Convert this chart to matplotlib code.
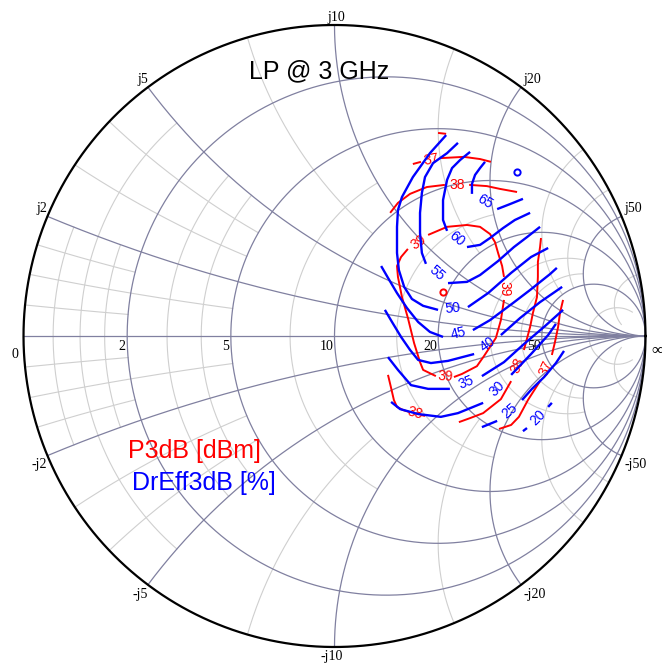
import numpy as np
import matplotlib
matplotlib.use("Agg")
import matplotlib.pyplot as plt

nan = np.nan
Z0 = 10.0  # reference impedance of the chart (ohm)

# ---------------- chart grid (normalised values) ----------------
R_MAJOR = [0.2, 0.5, 1.0, 2.0, 5.0]
X_MAJOR = [0.2, 0.5, 1.0, 2.0, 5.0]
MINOR_VALS = [0.05, 0.1, 0.15, 0.3, 0.4, 0.75, 1.5, 3.0, 4.0, 10.0]
MINOR_EXT = [0.2, 0.5, 0.2, 0.5, 0.5, 1.0, 2.0, 5.0, 5.0, 20.0]

TITLE = "LP @ 3 GHz"
LEGEND_P = "P3dB [dBm]"
LEGEND_E = "DrEff3dB [%]"

# ---------------- contour data (reflection coefficient, NaN = label gap) ----------------
# P3dB [dBm]
p37_top_re = [0.252, 0.278, nan, 0.342, 0.416, 0.468, 0.503]
p37_top_im = [0.553, 0.560, nan, 0.572, 0.576, 0.569, 0.560]

p36_stub_re = [0.333, 0.359]
p36_stub_im = [0.653, 0.650]

p38_top_re = [0.179, 0.204, 0.243, 0.297, 0.355, nan, 0.433, 0.490, 0.532, 0.587]
p38_top_im = [0.396, 0.428, 0.457, 0.479, 0.486, nan, 0.486, 0.482, 0.473, 0.463]

p39_re = [0.301, 0.362, 0.426, 0.468, 0.500, 0.516, 0.526, 0.539, 0.545, nan,
          0.545, 0.535, 0.519, 0.481, 0.458, 0.410, 0.384, nan,
          0.326, 0.285, 0.275, 0.256, 0.236, 0.217, 0.204, 0.201, 0.214, 0.236, nan, 0.301]
p39_im = [0.325, 0.351, 0.357, 0.351, 0.328, 0.302, 0.267, 0.225, 0.190, nan,
          0.116, 0.051, -0.006, -0.064, -0.097, -0.122, -0.132, nan,
          -0.129, -0.109, -0.084, -0.023, 0.058, 0.125, 0.190, 0.225, 0.254, 0.280, nan, 0.325]

p38_right_re = [0.664, 0.661, 0.654, 0.654, 0.651, 0.638, 0.629, 0.609, nan,
                0.568, 0.535, 0.478, 0.436, 0.400]
p38_right_im = [0.315, 0.286, 0.238, 0.190, 0.125, 0.074, 0.029, -0.045, nan,
                -0.145, -0.203, -0.248, -0.264, -0.277]

p38_left_re = [0.172, 0.182, 0.191, 0.201, 0.220, 0.240, nan, 0.278, 0.291]
p38_left_im = [-0.125, -0.167, -0.206, -0.228, -0.238, -0.244, nan, -0.254, -0.257]

p37_right_re = [0.735, 0.725, 0.719, 0.709, 0.699, nan, 0.661, 0.622, 0.593, 0.568, 0.529]
p37_right_im = [0.116, 0.074, 0.029, -0.019, -0.061, nan, -0.145, -0.206, -0.260, -0.286, -0.299]

P3DB_MAX = (0.349, 0.142)

# Drain efficiency [%]
e65_re = [0.484, 0.468, 0.452, 0.442, 0.442, nan, 0.523, 0.564, 0.606]
e65_im = [0.560, 0.540, 0.518, 0.489, 0.457, nan, 0.408, 0.424, 0.441]

e60_re = [0.436, 0.404, 0.378, 0.362, 0.349, 0.349, 0.362, nan, 0.426, 0.468, 0.500, 0.542, 0.580, 0.629]
e60_im = [0.592, 0.566, 0.540, 0.502, 0.437, 0.373, 0.338, nan, 0.286, 0.293, 0.315, 0.347, 0.373, 0.396]

e55_re = [0.397, 0.362, 0.317, 0.291, 0.281, 0.275, 0.275, 0.281, 0.294, nan,
          0.365, 0.426, 0.468, 0.526, 0.577, 0.619, 0.661]
e55_im = [0.621, 0.588, 0.556, 0.511, 0.460, 0.396, 0.331, 0.267, 0.232, nan,
          0.170, 0.174, 0.196, 0.241, 0.286, 0.318, 0.351]

e50_re = [0.359, 0.307, 0.252, 0.217, 0.204, 0.201, 0.201, 0.207, 0.224, 0.249, 0.285, 0.333, nan,
          0.429, 0.494, 0.568, 0.632, 0.687]
e50_im = [0.646, 0.588, 0.511, 0.447, 0.405, 0.351, 0.267, 0.212, 0.158, 0.119, 0.097, 0.084, nan,
          0.093, 0.138, 0.203, 0.254, 0.283]

e45_re = [0.150, 0.172, 0.201, 0.233, 0.269, 0.307, 0.349, nan, 0.445, 0.500, 0.574, 0.629, 0.693, 0.715]
e45_im = [0.225, 0.187, 0.138, 0.090, 0.045, 0.013, -0.003, nan, 0.019, 0.051, 0.106, 0.148, 0.199, 0.219]

e40_re = [0.162, 0.185, 0.214, 0.243, 0.269, 0.310, 0.365, 0.449, nan, 0.535, 0.597, 0.661, 0.709, 0.732]
e40_im = [0.084, 0.045, -0.003, -0.045, -0.077, -0.087, -0.080, -0.058, nan, 0.003, 0.058, 0.109, 0.142, 0.158]

e35_re = [0.172, 0.204, 0.246, 0.301, 0.371, nan, 0.474, 0.545, 0.609, 0.677, 0.735]
e35_im = [-0.068, -0.109, -0.158, -0.170, -0.170, nan, -0.129, -0.084, -0.026, 0.032, 0.084]

e30_re = [0.182, 0.211, 0.269, 0.342, 0.397, 0.478, nan, 0.568, 0.632, 0.687, 0.712]
e30_im = [-0.212, -0.235, -0.251, -0.260, -0.248, -0.215, nan, -0.125, -0.058, 0.003, 0.039]

e25_re = [0.474, 0.523, nan, 0.603, 0.635, 0.674, 0.712, 0.738]
e25_im = [-0.293, -0.273, nan, -0.206, -0.170, -0.132, -0.087, -0.048]

e20_re = [0.606, 0.619, nan, 0.687, 0.699]
e20_im = [-0.306, -0.296, nan, -0.228, -0.215]

EFF_MAX = (0.587, 0.527)

P3DB_CONTOURS = [("37", p37_top_re, p37_top_im), ("", p36_stub_re, p36_stub_im),
                 ("38", p38_top_re, p38_top_im), ("39", p39_re, p39_im),
                 ("38", p38_right_re, p38_right_im), ("38", p38_left_re, p38_left_im),
                 ("37", p37_right_re, p37_right_im)]
EFF_CONTOURS = [("65", e65_re, e65_im), ("60", e60_re, e60_im), ("55", e55_re, e55_im),
                ("50", e50_re, e50_im), ("45", e45_re, e45_im), ("40", e40_re, e40_im),
                ("35", e35_re, e35_im), ("30", e30_re, e30_im), ("25", e25_re, e25_im),
                ("20", e20_re, e20_im)]

# ---------------- styling ----------------
MAJOR_C = "#8080a0"
MINOR_C = "#cfcfcf"
RED = "#ff0000"
BLUE = "#0000ff"
SANS = "Liberation Sans"
SERIF = "Liberation Serif"


def gam(z):
    return (z - 1) / (z + 1)


def r_arc(r, xmax, n=1500):
    t = np.linspace(-np.arctan(xmax), np.arctan(xmax), n)
    g = gam(r + 1j * np.tan(t))
    return g.real, g.imag


def x_arc(x, rmax, n=1500):
    t = np.linspace(0, np.arctan(rmax), n)
    g = gam(np.tan(t) + 1j * x)
    return g.real, g.imag


fig = plt.figure(figsize=(6.62, 6.65), dpi=100)
fig.patch.set_facecolor("white")
ax = fig.add_axes([0, 0, 1, 1])
ax.set_xlim(-1.0756, 1.0531)
ax.set_ylim(-1.0579, 1.0804)
ax.axis("off")

# minor grid
for v, ext in zip(MINOR_VALS, MINOR_EXT):
    gx, gy = r_arc(v, ext)
    ax.plot(gx, gy, color=MINOR_C, lw=0.8, zorder=1)
    for s in (1, -1):
        gx, gy = x_arc(s * v, ext)
        ax.plot(gx, gy, color=MINOR_C, lw=0.8, zorder=1)

# major grid
for r in R_MAJOR:
    gx, gy = r_arc(r, np.inf)
    ax.plot(gx, gy, color=MAJOR_C, lw=0.9, zorder=1.5)
for x in X_MAJOR:
    for s in (1, -1):
        gx, gy = x_arc(s * x, np.inf)
        ax.plot(gx, gy, color=MAJOR_C, lw=0.9, zorder=1.5)
ax.plot([-1, 1], [0, 0], color=MAJOR_C, lw=0.9, zorder=1.5)

th = np.linspace(0, 2 * np.pi, 1000)
ax.plot(np.cos(th), np.sin(th), color="black", lw=1.6, zorder=2)

# grid labels
for r in R_MAJOR:
    ax.annotate(f"{r * Z0:g}", (gam(r), 0), xytext=(-1, -3), textcoords="offset points",
                ha="right", va="top", fontsize=10, family=SERIF)
ax.annotate("0", (-1, 0), xytext=(-4, -9), textcoords="offset points",
            ha="right", va="top", fontsize=10, family=SERIF)
ax.annotate("\u221e", (1, 0), xytext=(4, -5), textcoords="offset points",
            ha="left", va="top", fontsize=12, family=SERIF)
for x in X_MAJOR:
    for s in (1, -1):
        g = gam(1j * s * x)
        lab = ("j" if s > 0 else "-j") + f"{x * Z0:g}"
        if g.real < -0.1:
            ha, dx = "right", 0
        elif g.real > 0.1:
            ha, dx = "left", 2
        else:
            ha, dx = "center", 1 if s > 0 else -2
        va = "bottom" if s > 0 else "top"
        dy = 1 if s > 0 else -2
        ax.annotate(lab, (g.real, g.imag), xytext=(dx, dy), textcoords="offset points",
                    ha=ha, va=va, fontsize=10, family=SERIF)


def draw_contour(text, re, im, color, lw, z):
    re = np.asarray(re, float)
    im = np.asarray(im, float)
    ax.plot(re, im, color=color, lw=lw, zorder=z, solid_joinstyle="round",
            solid_capstyle="butt")
    for i in np.where(np.isnan(re))[0]:
        x0, y0, x1, y1 = re[i - 1], im[i - 1], re[i + 1], im[i + 1]
        ang = np.degrees(np.arctan2(y1 - y0, x1 - x0))
        if ang > 90:
            ang -= 180
        elif ang < -90:
            ang += 180
        ax.text((x0 + x1) / 2, (y0 + y1) / 2, text, color=color, fontsize=10,
                family=SANS, rotation=ang, rotation_mode="anchor",
                ha="center", va="center", zorder=z - 0.5)


for text, re, im in P3DB_CONTOURS:
    draw_contour(text, re, im, RED, 1.4, 4)
for text, re, im in EFF_CONTOURS:
    draw_contour(text, re, im, BLUE, 1.7, 5)

ax.plot(*P3DB_MAX, marker="o", ms=4.5, mfc="none", mec=RED, mew=1.4, zorder=6)
ax.plot(*EFF_MAX, marker="o", ms=4.5, mfc="none", mec=BLUE, mew=1.4, zorder=6)

fig.text(319 / 662, 1 - 71 / 665, TITLE, ha="center", va="center", fontsize=18,
         family=SANS, color="black")
fig.text(128 / 662, 1 - 451 / 665, LEGEND_P, ha="left", va="center", fontsize=18,
         family=SANS, color=RED)
fig.text(132 / 662, 1 - 483 / 665, LEGEND_E, ha="left", va="center", fontsize=18,
         family=SANS, color=BLUE)

fig.savefig("out.png", dpi=100, facecolor="white")
